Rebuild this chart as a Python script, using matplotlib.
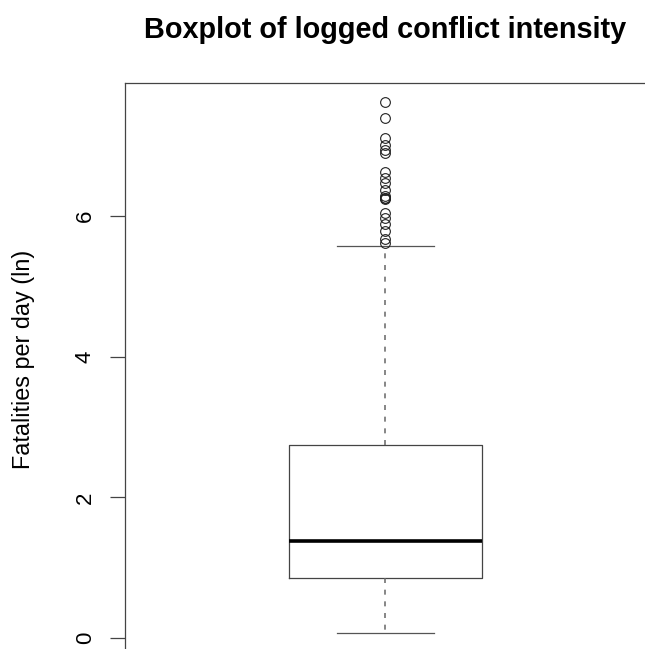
import matplotlib
matplotlib.use("Agg")
import matplotlib.pyplot as plt

plt.rcParams['font.family'] = ['Liberation Sans', 'DejaVu Sans']
plt.rcParams['lines.scale_dashes'] = False

# box statistics (log fatalities per day)
q1 = 0.85
median = 1.38
q3 = 2.74
whisker_low = 0.07
whisker_high = 5.57
outliers = [7.62, 7.39, 7.11, 7.01, 6.94, 6.90, 6.63, 6.54, 6.47, 6.37,
            6.28, 6.26, 6.25, 6.24, 6.04, 5.97, 5.89, 5.79, 5.67, 5.62]
yticks = [0, 2, 4, 6]

title = "Boxplot of logged conflict intensity"
ylabel = "Fatalities per day (ln)"

W, H = 645, 649
fig = plt.figure(figsize=(W / 100, H / 100), dpi=100)
ax = fig.add_axes([125 / W, -5 / H, 521 / W, 571.5 / H])

stats = [dict(med=median, q1=q1, q3=q3, whislo=whisker_low,
              whishi=whisker_high, fliers=outliers)]
ax.bxp(stats, positions=[1], widths=0.4, showfliers=True,
       boxprops=dict(color='#444444', linewidth=0.9),
       medianprops=dict(color='black', linewidth=2.6, solid_capstyle='butt'),
       whiskerprops=dict(color='#666666', linewidth=1.1, linestyle=(0, (3.6, 4.8))),
       capprops=dict(color='#555555', linewidth=0.9),
       flierprops=dict(marker='o', markerfacecolor='none', markeredgecolor='#222222',
                       markersize=7, markeredgewidth=0.8))

ax.set_xlim(0.46, 1.54)
ax.set_ylim(-0.2275, 7.899)
ax.set_xticks([])
ax.set_yticks(yticks)
ax.set_yticklabels([str(t) for t in yticks], rotation=90, va='center', fontsize=16)
ax.tick_params(axis='y', length=11, width=0.9, color='#444444', pad=10)
for s in ax.spines.values():
    s.set_color('#444444')
    s.set_linewidth(0.9)

fig.text(385.5 / W, 1 - 30 / H, title, ha='center', va='center',
         fontsize=20.8, fontweight='bold')
fig.text(24 / W, 1 - 359 / H, ylabel, ha='center', va='center',
         rotation=90, fontsize=16.8)

fig.savefig("out.png", dpi=100)
